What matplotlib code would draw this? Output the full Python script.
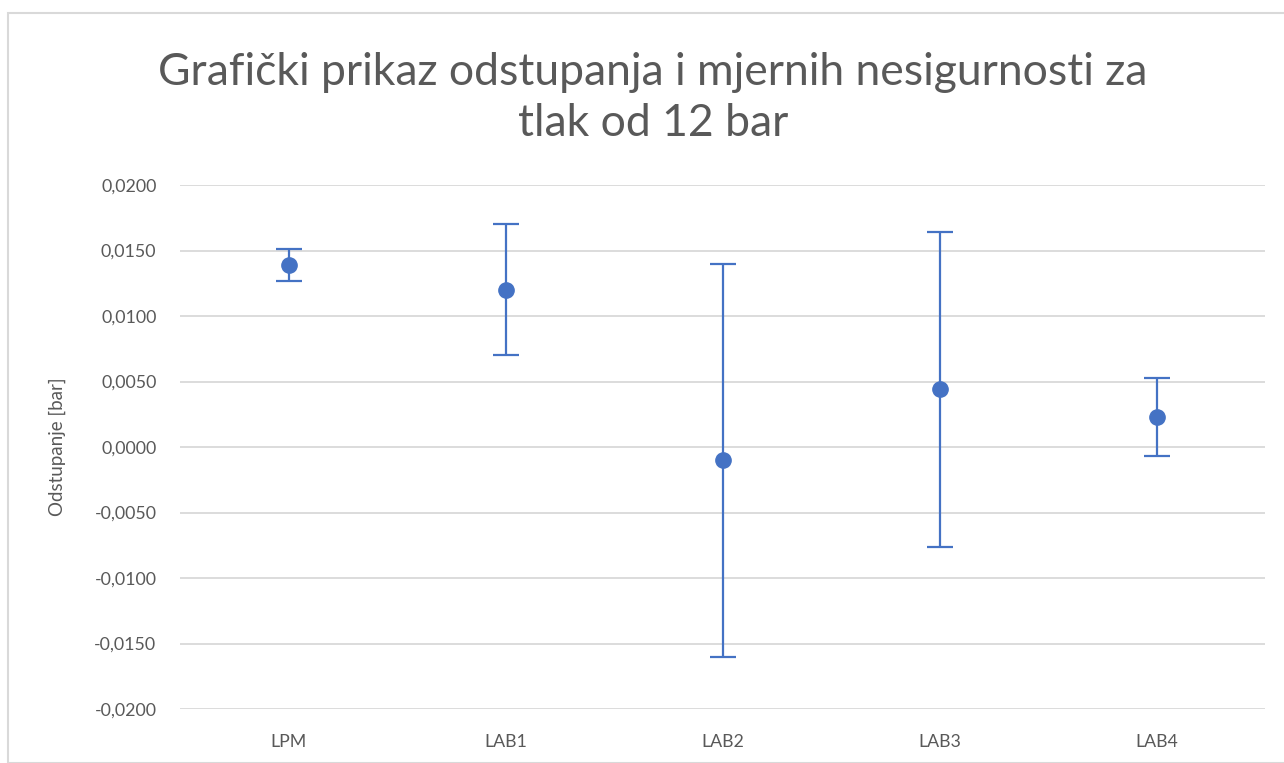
import matplotlib
matplotlib.use("Agg")
import matplotlib.pyplot as plt
from matplotlib.patches import Rectangle
from matplotlib.ticker import FuncFormatter, MultipleLocator

categories = ["LPM", "LAB1", "LAB2", "LAB3", "LAB4"]
deviation = [0.0139, 0.0120, -0.0010, 0.0044, 0.0023]
uncertainty = [0.0012, 0.0050, 0.0150, 0.0120, 0.0030]

plt.rcParams['font.family'] = ['Lato', 'DejaVu Sans']
fig = plt.figure(figsize=(12.84, 7.63), dpi=100)
ax = fig.add_axes([180/1284, 1-709/763, 1085/1284, 524/763])

fig.patches.append(Rectangle((8/1284, 0), 1.2, 1-13/763, transform=fig.transFigure,
                             fill=False, edgecolor='#D9D9D9', lw=1.5, zorder=0))

x = list(range(len(categories)))
ax.errorbar(x, deviation, yerr=uncertainty, fmt='o', color='#4472C4', ecolor='#4472C4',
            ms=11, elinewidth=1.6, capsize=9.5, capthick=1.6, zorder=3)

ax.set_xlim(-0.5, len(categories) - 0.5)
ax.set_ylim(-0.02, 0.02)
ax.yaxis.set_major_locator(MultipleLocator(0.005))
ax.yaxis.set_major_formatter(FuncFormatter(lambda v, p: f"{v:.4f}".replace('.', ',').replace('-0,0000', '0,0000')))
ax.set_xticks(x)
ax.set_xticklabels(categories)
ax.grid(axis='y', color='#D9D9D9', lw=1.3)
ax.set_axisbelow(True)
for s in ax.spines.values():
    s.set_visible(False)
ax.tick_params(length=0, labelsize=12.8, colors='#595959')
ax.tick_params(axis='y', pad=17)
ax.tick_params(axis='x', pad=18)
ax.set_ylabel("Odstupanje [bar]", fontsize=13.5, color='#595959', labelpad=20)

fig.text(653/1284, 1-98/763, "Grafički prikaz odstupanja i mjernih nesigurnosti za\ntlak od 12 bar",
         ha='center', va='center', fontsize=32, color='#595959', linespacing=1.3)

fig.savefig("out.png", dpi=100)
